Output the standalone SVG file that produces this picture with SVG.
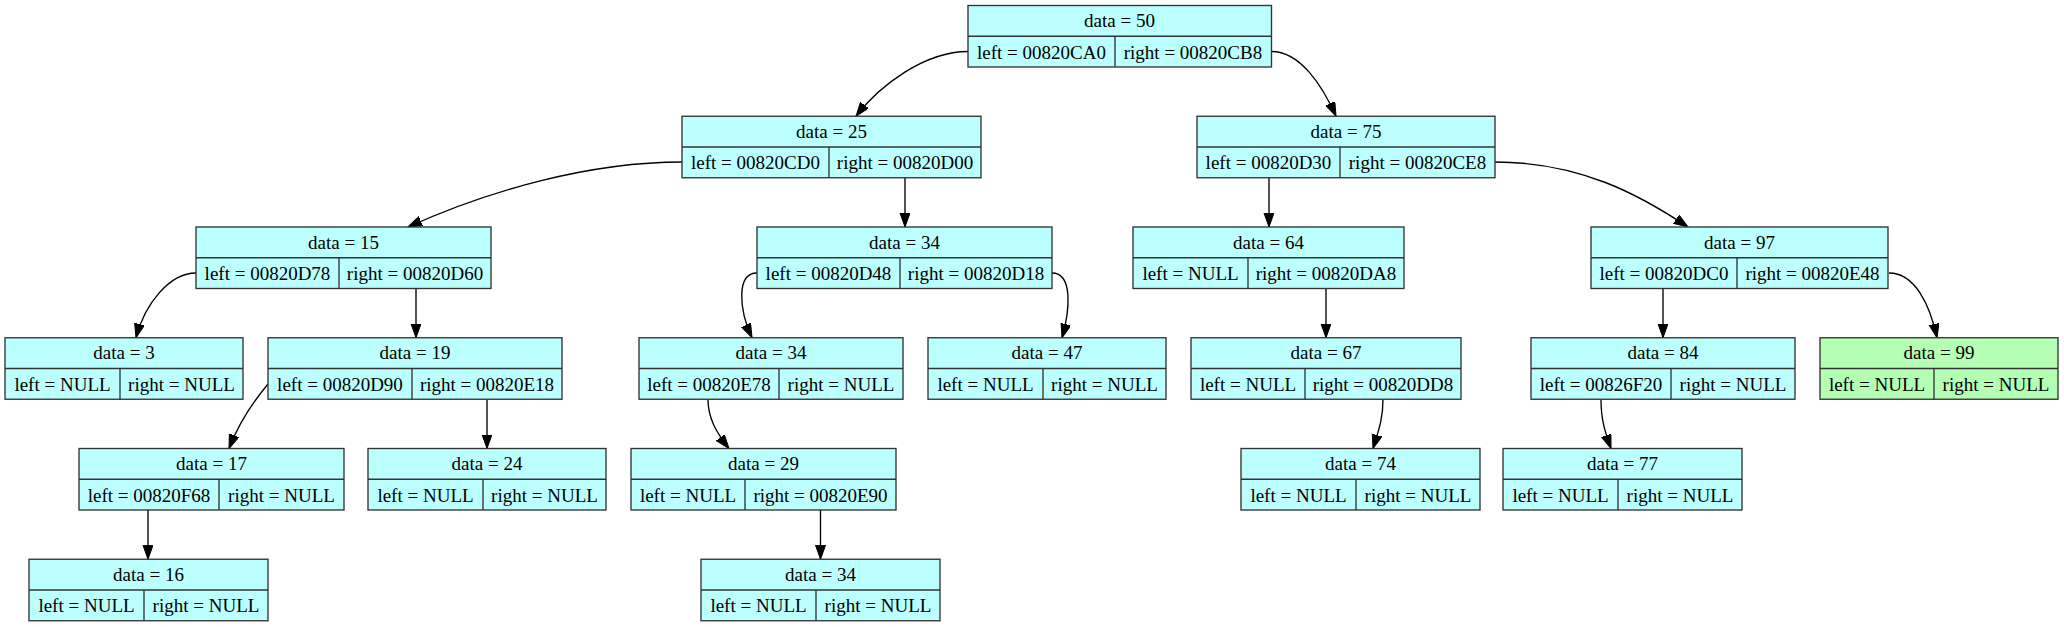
<svg xmlns="http://www.w3.org/2000/svg" width="2064" height="627" viewBox="0 0 2064 627">
<defs>
<marker id="ah" markerUnits="userSpaceOnUse" markerWidth="15" markerHeight="11" viewBox="0 0 15 11" refX="14" refY="5" orient="auto">
<path d="M0,0 L14,5 L0,10 z" fill="#000" stroke="#000" stroke-width="1"/>
</marker>
</defs>
<style>
.nd rect{fill:#bbffff;stroke:#333;stroke-width:1.35}
.nd.green rect{fill:#b4ffb4}
.nd line{stroke:#333;stroke-width:1.35}
.nd text{font-family:"Liberation Serif","Times New Roman",serif;font-size:19px;text-anchor:middle;fill:#000}
.edges path{fill:none;stroke:#000;stroke-width:1.35;marker-end:url(#ah)}
</style>
<rect width="2064" height="627" fill="#fff"/>
<g class="edges" id="edges">
<path d="M968,51.5 C925,51.5 880,85 856,116.25"/>
<path d="M1271.5,51.5 C1300,51.5 1322,85 1336,116.25"/>
<path d="M682,162 C590,162 490,190 408,227"/>
<path d="M905,177.75 L905,227"/>
<path d="M1269,177.75 L1269,227"/>
<path d="M1495,162 C1580,162 1640,195 1688,227"/>
<path d="M196,273 C170,273 145,303 136,337.75"/>
<path d="M416,288.5 L416,337.75"/>
<path d="M757,273 C736,273 739,310 752,337.75"/>
<path d="M1052,273 C1073,273 1070,310 1062,337.75"/>
<path d="M1326,288.5 L1326,337.75"/>
<path d="M1663,288.5 L1663,337.75"/>
<path d="M1889,273 C1915,273 1930,305 1937,337.75"/>
<path d="M268,384 C258,396 240,420 229,448.5"/>
<path d="M487,399.25 L487,448.5"/>
<path d="M708,399.25 C708,418 716,432 729,448.5"/>
<path d="M1383,399.25 C1383,420 1378,432 1373,448.5"/>
<path d="M1601,399.25 C1601,420 1605,432 1611,448.5"/>
<path d="M148,510 L148,559.25"/>
<path d="M820.5,510 L820.5,559.25"/>
</g>
<g class="nd" id="n50"><rect x="968" y="5.5" width="303.5" height="61.5"/><line x1="968" y1="36.25" x2="1271.5" y2="36.25"/><line x1="1115" y1="36.25" x2="1115" y2="67"/><text x="1119.5" y="27">data = 50</text><text x="1041.5" y="58.5">left = 00820CA0</text><text x="1193" y="58.5">right = 00820CB8</text></g>
<g class="nd" id="n25"><rect x="682" y="116.25" width="299" height="61.5"/><line x1="682" y1="147" x2="981" y2="147"/><line x1="829" y1="147" x2="829" y2="177.75"/><text x="831.5" y="137.75">data = 25</text><text x="755.5" y="169.25">left = 00820CD0</text><text x="905" y="169.25">right = 00820D00</text></g>
<g class="nd" id="n75"><rect x="1197" y="116.25" width="298" height="61.5"/><line x1="1197" y1="147" x2="1495" y2="147"/><line x1="1340" y1="147" x2="1340" y2="177.75"/><text x="1346" y="137.75">data = 75</text><text x="1268.5" y="169.25">left = 00820D30</text><text x="1417.5" y="169.25">right = 00820CE8</text></g>
<g class="nd" id="n15"><rect x="196" y="227" width="295" height="61.5"/><line x1="196" y1="257.75" x2="491" y2="257.75"/><line x1="339" y1="257.75" x2="339" y2="288.5"/><text x="343.5" y="248.5">data = 15</text><text x="267.5" y="280">left = 00820D78</text><text x="415" y="280">right = 00820D60</text></g>
<g class="nd" id="n34a"><rect x="757" y="227" width="295" height="61.5"/><line x1="757" y1="257.75" x2="1052" y2="257.75"/><line x1="900" y1="257.75" x2="900" y2="288.5"/><text x="904.5" y="248.5">data = 34</text><text x="828.5" y="280">left = 00820D48</text><text x="976" y="280">right = 00820D18</text></g>
<g class="nd" id="n64"><rect x="1133" y="227" width="271" height="61.5"/><line x1="1133" y1="257.75" x2="1404" y2="257.75"/><line x1="1248" y1="257.75" x2="1248" y2="288.5"/><text x="1268.5" y="248.5">data = 64</text><text x="1190.5" y="280">left = NULL</text><text x="1326" y="280">right = 00820DA8</text></g>
<g class="nd" id="n97"><rect x="1591" y="227" width="297" height="61.5"/><line x1="1591" y1="257.75" x2="1888" y2="257.75"/><line x1="1737" y1="257.75" x2="1737" y2="288.5"/><text x="1739.5" y="248.5">data = 97</text><text x="1664" y="280">left = 00820DC0</text><text x="1812.5" y="280">right = 00820E48</text></g>
<g class="nd" id="n3"><rect x="5" y="337.75" width="238" height="61.5"/><line x1="5" y1="368.5" x2="243" y2="368.5"/><line x1="120" y1="368.5" x2="120" y2="399.25"/><text x="124" y="359.25">data = 3</text><text x="62.5" y="390.75">left = NULL</text><text x="181.5" y="390.75">right = NULL</text></g>
<g class="nd" id="n19"><rect x="268" y="337.75" width="294" height="61.5"/><line x1="268" y1="368.5" x2="562" y2="368.5"/><line x1="412" y1="368.5" x2="412" y2="399.25"/><text x="415" y="359.25">data = 19</text><text x="340" y="390.75">left = 00820D90</text><text x="487" y="390.75">right = 00820E18</text></g>
<g class="nd" id="n34b"><rect x="639" y="337.75" width="264" height="61.5"/><line x1="639" y1="368.5" x2="903" y2="368.5"/><line x1="779" y1="368.5" x2="779" y2="399.25"/><text x="771" y="359.25">data = 34</text><text x="709" y="390.75">left = 00820E78</text><text x="841" y="390.75">right = NULL</text></g>
<g class="nd" id="n47"><rect x="928" y="337.75" width="238" height="61.5"/><line x1="928" y1="368.5" x2="1166" y2="368.5"/><line x1="1043" y1="368.5" x2="1043" y2="399.25"/><text x="1047" y="359.25">data = 47</text><text x="985.5" y="390.75">left = NULL</text><text x="1104.5" y="390.75">right = NULL</text></g>
<g class="nd" id="n67"><rect x="1191" y="337.75" width="270" height="61.5"/><line x1="1191" y1="368.5" x2="1461" y2="368.5"/><line x1="1305" y1="368.5" x2="1305" y2="399.25"/><text x="1326" y="359.25">data = 67</text><text x="1248" y="390.75">left = NULL</text><text x="1383" y="390.75">right = 00820DD8</text></g>
<g class="nd" id="n84"><rect x="1531" y="337.75" width="264" height="61.5"/><line x1="1531" y1="368.5" x2="1795" y2="368.5"/><line x1="1671" y1="368.5" x2="1671" y2="399.25"/><text x="1663" y="359.25">data = 84</text><text x="1601" y="390.75">left = 00826F20</text><text x="1733" y="390.75">right = NULL</text></g>
<g class="nd green" id="n99"><rect x="1820" y="337.75" width="238" height="61.5"/><line x1="1820" y1="368.5" x2="2058" y2="368.5"/><line x1="1934" y1="368.5" x2="1934" y2="399.25"/><text x="1939" y="359.25">data = 99</text><text x="1877" y="390.75">left = NULL</text><text x="1996" y="390.75">right = NULL</text></g>
<g class="nd" id="n17"><rect x="79" y="448.5" width="265" height="61.5"/><line x1="79" y1="479.25" x2="344" y2="479.25"/><line x1="219" y1="479.25" x2="219" y2="510"/><text x="211.5" y="470">data = 17</text><text x="149" y="501.5">left = 00820F68</text><text x="281.5" y="501.5">right = NULL</text></g>
<g class="nd" id="n24"><rect x="368" y="448.5" width="238" height="61.5"/><line x1="368" y1="479.25" x2="606" y2="479.25"/><line x1="483" y1="479.25" x2="483" y2="510"/><text x="487" y="470">data = 24</text><text x="425.5" y="501.5">left = NULL</text><text x="544.5" y="501.5">right = NULL</text></g>
<g class="nd" id="n29"><rect x="631" y="448.5" width="265" height="61.5"/><line x1="631" y1="479.25" x2="896" y2="479.25"/><line x1="745" y1="479.25" x2="745" y2="510"/><text x="763.5" y="470">data = 29</text><text x="688" y="501.5">left = NULL</text><text x="820.5" y="501.5">right = 00820E90</text></g>
<g class="nd" id="n74"><rect x="1241" y="448.5" width="239" height="61.5"/><line x1="1241" y1="479.25" x2="1480" y2="479.25"/><line x1="1356" y1="479.25" x2="1356" y2="510"/><text x="1360.5" y="470">data = 74</text><text x="1298.5" y="501.5">left = NULL</text><text x="1418" y="501.5">right = NULL</text></g>
<g class="nd" id="n77"><rect x="1503" y="448.5" width="239" height="61.5"/><line x1="1503" y1="479.25" x2="1742" y2="479.25"/><line x1="1618" y1="479.25" x2="1618" y2="510"/><text x="1622.5" y="470">data = 77</text><text x="1560.5" y="501.5">left = NULL</text><text x="1680" y="501.5">right = NULL</text></g>
<g class="nd" id="n16"><rect x="29" y="559.25" width="239" height="61.5"/><line x1="29" y1="590" x2="268" y2="590"/><line x1="144" y1="590" x2="144" y2="620.75"/><text x="148.5" y="580.75">data = 16</text><text x="86.5" y="612.25">left = NULL</text><text x="206" y="612.25">right = NULL</text></g>
<g class="nd" id="n34c"><rect x="701" y="559.25" width="239" height="61.5"/><line x1="701" y1="590" x2="940" y2="590"/><line x1="816" y1="590" x2="816" y2="620.75"/><text x="820.5" y="580.75">data = 34</text><text x="758.5" y="612.25">left = NULL</text><text x="878" y="612.25">right = NULL</text></g>
</svg>
